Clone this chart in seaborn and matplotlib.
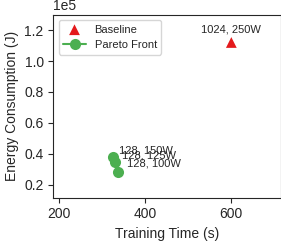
import seaborn as sns
import matplotlib.pyplot as plt
import pandas as pd

# baseline config
base_time = [600]
base_energy = [1.12e5]
base_labels = ["1024, 250W"]

# pareto front configs
pareto_time = [326, 331, 338]
pareto_energy = [0.38e5, 0.35e5, 0.285e5]
pareto_labels = ["128, 150W", "128, 125W", "128, 100W"]

sns.set_style("ticks")
plt.rcParams['font.family'] = ['Liberation Sans', 'DejaVu Sans']

fig, ax = plt.subplots(figsize=(2.81, 2.44), dpi=100)

df_p = pd.DataFrame({"t": pareto_time, "e": pareto_energy})
sns.lineplot(data=df_p, x="t", y="e", marker="o", color="#4caf50", markersize=8,
             markeredgewidth=0, linewidth=1.5, sort=False, label="Pareto Front", ax=ax)
sns.scatterplot(x=base_time, y=base_energy, marker="^", color="#e41a1c", s=60,
                edgecolor="none", label="Baseline", ax=ax, zorder=3)

for x, y, lab in zip(base_time, base_energy, base_labels):
    ax.annotate(lab, (x, y), xytext=(0, 6), textcoords="offset points",
                ha="center", va="bottom", fontsize=8)
offsets = [(4, 1), (5, 1), (6, 2)]
for (x, y, lab), off in zip(zip(pareto_time, pareto_energy, pareto_labels), offsets):
    ax.annotate(lab, (x, y), xytext=off, textcoords="offset points",
                ha="left", va="bottom", fontsize=8)

h, l = ax.get_legend_handles_labels()
ax.legend(h[::-1], l[::-1], loc="upper left", fontsize=8, frameon=True)

ax.set_xlim(188, 715)
ax.set_ylim(0.117e5, 1.30e5)
ax.set_xticks([200, 400, 600])
ax.set_yticks([0.2e5, 0.4e5, 0.6e5, 0.8e5, 1.0e5, 1.2e5])
ax.ticklabel_format(axis="y", style="sci", scilimits=(0, 0))
ax.yaxis.get_offset_text().set_fontsize(10)
ax.set_xlabel("Training Time (s)", fontsize=10)
ax.set_ylabel("Energy Consumption (J)", fontsize=10)
ax.tick_params(labelsize=10)

fig.subplots_adjust(left=0.19, right=1.0, top=0.94, bottom=0.19)
fig.savefig("out.png", dpi=100)
